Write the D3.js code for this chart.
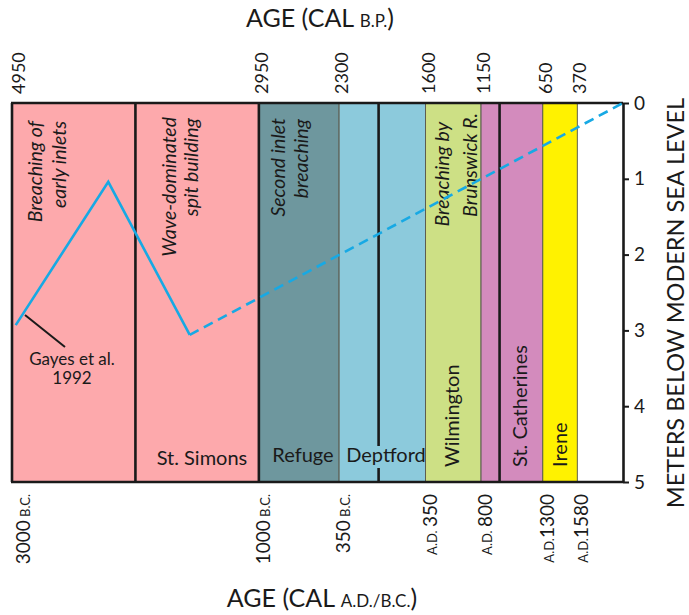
<!DOCTYPE html>
<html>
<head>
<meta charset="utf-8">
<script src="https://cdn.jsdelivr.net/npm/d3@7"></script>
<style>
  html, body { margin: 0; padding: 0; background: #fff; }
  svg { display: block; font-family: Lato, "Open Sans", sans-serif; }
</style>
</head>
<body>
<svg id="chart" width="689" height="615"></svg>
<script>
// ---------------- DATA ----------------
// Cultural periods (cal yr B.P.)
const periodStart = [4950, 3950, 2950, 2300, 1600, 1150, 650];
const periodEnd   = [3950, 2950, 2300, 1600, 1150, 650, 370];
const periodNames = ["", "St. Simons", "Refuge", "Deptford", "Wilmington", "St. Catherines", "Irene"];
const eventLines  = [["Breaching of", "early inlets"], ["Wave-dominated", "spit building"], ["Second inlet", "breaching"], null, ["Breaching by", "Brunswick R."], null, null];
// Major boundaries (cal yr B.P.)
const boundaries = [4950, 3950, 2950, 1980, 1000];
// Sea-level curve (age B.P., meters below modern sea level)
const curveAge   = [4920, 4170, 3510];
const curveDepth = [2.93, 1.04, 3.06];
const projAge    = [3510, 0];
const projDepth  = [3.06, 0];
// Axis ticks
const topTicks   = [4950, 2950, 2300, 1600, 1150, 650, 370];
const bottomNum  = ["3000", "1000", "350", "350", "800", "1300", "1580"];
const bottomEra  = ["B.C.", "B.C.", "B.C.", "A.D.", "A.D.", "A.D.", "A.D."];
const depthTicks = [0, 1, 2, 3, 4, 5];

// ---------------- STYLE ----------------
const bandColors = ["#fda9ac", "#fda9ac", "#6e979e", "#8ccadc", "#cde085", "#d38bbd", "#fff200"];
const lineColor = "#17a9e4";

const svg = d3.select("#chart");
const L = 12, R = 623, T = 103, B = 482;
const x = d3.scaleLinear().domain([4950, 0]).range([L, R]);
const y = d3.scaleLinear().domain([0, 5]).range([T, B]);

// bands
const bands = periodStart.map((s, i) => ({ s, e: periodEnd[i], c: bandColors[i], name: periodNames[i], ev: eventLines[i] }));
svg.append("g").selectAll("rect").data(bands).join("rect")
  .attr("x", d => x(d.s)).attr("y", T)
  .attr("width", d => x(d.e) - x(d.s)).attr("height", B - T)
  .attr("fill", d => d.c)
  .attr("stroke", "#5d5d50").attr("stroke-width", 1);

// major boundaries
svg.append("g").selectAll("line").data(boundaries).join("line")
  .attr("x1", d => x(d)).attr("x2", d => x(d))
  .attr("y1", T).attr("y2", B)
  .attr("stroke", "#1a1a1a").attr("stroke-width", 2.6);

// frame top & bottom
svg.append("line").attr("x1", L - 1).attr("x2", R).attr("y1", T).attr("y2", T).attr("stroke", "#1a1a1a").attr("stroke-width", 2.6);
svg.append("line").attr("x1", L - 1).attr("x2", R).attr("y1", B).attr("y2", B).attr("stroke", "#1a1a1a").attr("stroke-width", 2.6);

// event (italic) labels: layout offsets from band start [line1 baseline dx, line2 baseline dx, top1, top2]
const evLayout = [[30, 54, 121, 121], [41, 63, 117, 118], [26, 49, 118, 119], null, [23, 51, 122, 113], null, null];
bands.forEach((d, i) => {
  if (!d.ev) return;
  const lay = evLayout[i];
  d.ev.forEach((t, j) => {
    svg.append("text")
      .attr("transform", `translate(${x(d.s) + lay[j]},${lay[2 + j]}) rotate(-90)`)
      .attr("text-anchor", "end")
      .attr("font-style", "italic")
      .attr("font-size", 19.5)
      .attr("fill", "#1a1a1a")
      .text(t);
  });
});

// horizontal period names
const hLayout = { "St. Simons": [202, 465], "Refuge": [303, 462], "Deptford": [386, 462] };
// vertical period names: baseline x, bottom y
const vLayout = { "Wilmington": [459, 467], "St. Catherines": [527, 467], "Irene": [567, 467] };
bands.forEach(d => {
  if (hLayout[d.name]) {
    const p = hLayout[d.name];
    if (d.name === "Deptford") {
      svg.append("rect").attr("x", p[0] - 38).attr("y", p[1] - 16).attr("width", 76).attr("height", 22).attr("fill", d.c);
    }
    svg.append("text").attr("x", p[0]).attr("y", p[1])
      .attr("text-anchor", "middle").attr("font-size", 20).attr("fill", "#1a1a1a").text(d.name);
  } else if (vLayout[d.name]) {
    const p = vLayout[d.name];
    svg.append("text")
      .attr("transform", `translate(${p[0]},${p[1]}) rotate(-90)`)
      .attr("text-anchor", "start").attr("font-size", 20).attr("fill", "#1a1a1a").text(d.name);
  }
});

// sea-level curve
const line = d3.line().x(d => x(d[0])).y(d => y(d[1]));
svg.append("path").datum(curveAge.map((a, i) => [a, curveDepth[i]]))
  .attr("d", line).attr("fill", "none").attr("stroke", lineColor).attr("stroke-width", 2.6);
svg.append("path").datum(projAge.map((a, i) => [a, projDepth[i]]))
  .attr("d", line).attr("fill", "none").attr("stroke", lineColor).attr("stroke-width", 2.6)
  .attr("stroke-dasharray", "10,6");

// Gayes callout
svg.append("line").attr("x1", 25).attr("y1", 315).attr("x2", 65).attr("y2", 347)
  .attr("stroke", "#1a1a1a").attr("stroke-width", 2);
svg.append("text").attr("x", 72).attr("y", 365).attr("text-anchor", "middle").attr("font-size", 17).attr("fill", "#1a1a1a").text("Gayes et al.");
svg.append("text").attr("x", 72).attr("y", 384).attr("text-anchor", "middle").attr("font-size", 17).attr("fill", "#1a1a1a").text("1992");

// right axis
const yAxis = svg.append("g").attr("transform", `translate(${R},0)`)
  .call(d3.axisRight(y).tickValues(depthTicks).tickSize(6).tickSizeOuter(0).tickPadding(5).tickFormat(d3.format("d")));
yAxis.select(".domain").attr("stroke", "#1a1a1a").attr("stroke-width", 2.6);
yAxis.selectAll(".tick line").attr("stroke", "#1a1a1a").attr("stroke-width", 2);
yAxis.selectAll(".tick text").attr("font-size", 19).attr("font-family", "Lato, sans-serif").attr("fill", "#1a1a1a");

// top tick labels (cal B.P.)
svg.append("g").selectAll("text").data(topTicks).join("text")
  .attr("transform", d => `translate(${Math.max(x(d) + 9, 25)},94) rotate(-90)`)
  .attr("text-anchor", "start").attr("font-size", 18).attr("fill", "#1a1a1a")
  .text(d => d);

// bottom tick labels (A.D./B.C.)
const bottomG = svg.append("g");
topTicks.forEach((d, i) => {
  const t = bottomG.append("text")
    .attr("transform", `translate(${Math.max(x(d) + 11, 30)},494) rotate(-90)`)
    .attr("text-anchor", "end").attr("fill", "#1a1a1a");
  if (bottomEra[i] === "B.C.") {
    t.append("tspan").attr("font-size", 19).text(bottomNum[i]);
    t.append("tspan").attr("font-size", 13).text(" " + bottomEra[i]);
  } else {
    t.append("tspan").attr("font-size", 13).text(bottomEra[i] + (bottomNum[i].length > 3 ? "" : " "));
    t.append("tspan").attr("font-size", 19).text(bottomNum[i]);
  }
});

// titles
const topTitle = svg.append("text").attr("x", 320).attr("y", 27).attr("text-anchor", "middle").attr("fill", "#1a1a1a");
topTitle.append("tspan").attr("font-size", 25).text("AGE (CAL ");
topTitle.append("tspan").attr("font-size", 17).text("B.P.");
topTitle.append("tspan").attr("font-size", 25).text(")");

const botTitle = svg.append("text").attr("x", 322).attr("y", 607).attr("text-anchor", "middle").attr("fill", "#1a1a1a");
botTitle.append("tspan").attr("font-size", 25).text("AGE (CAL ");
botTitle.append("tspan").attr("font-size", 17).text("A.D./B.C.");
botTitle.append("tspan").attr("font-size", 25).text(")");

svg.append("text")
  .attr("transform", "translate(684,303) rotate(-90)")
  .attr("text-anchor", "middle").attr("font-size", 23.5).attr("fill", "#1a1a1a")
  .text("METERS BELOW MODERN SEA LEVEL");
</script>
</body>
</html>
